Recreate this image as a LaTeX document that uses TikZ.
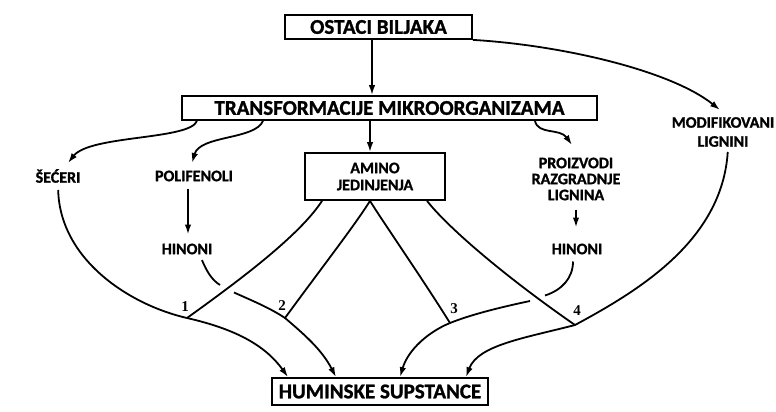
\documentclass[tikz,border=0pt]{standalone}
\usepackage{fontspec}
\setmainfont{Carlito}[BoldFeatures={FakeBold=1.2}]
\newfontfamily\numfont{Liberation Serif}
\usetikzlibrary{arrows.meta}
\begin{document}
\begin{tikzpicture}[x=1pt,y=-1pt,
  box/.style={draw, line width=1.8pt, inner sep=0pt, align=center,
    font=\fontsize{21}{24}\selectfont\bfseries},
  lbl/.style={inner sep=1pt, align=center,
    font=\fontsize{16}{16}\selectfont\bfseries},
  ln/.style={line width=1.8pt},
  arr/.style={ln, -{Latex[length=10pt,width=6.5pt]}},
  num/.style={inner sep=0pt, font=\numfont\fontsize{15}{15}\selectfont\bfseries}]
\useasboundingbox (0,0) rectangle (776,412);
\fill[white] (0,0) rectangle (776,412);

% boxes
\node[box, minimum width=187pt, minimum height=24pt] (ostaci) at (378.5,27) {OSTACI BILJAKA};
\node[box, minimum width=415pt, minimum height=24pt] (transf) at (389.5,108) {TRANSFORMACIJE MIKROORGANIZAMA};
\node[box, minimum width=140pt, minimum height=47pt, font=\fontsize{16}{17}\selectfont\bfseries] (amino) at (375,176.5) {AMINO\\JEDINJENJA};
\node[box, minimum width=216pt, minimum height=27pt] (hum) at (380,391.5) {HUMINSKE SUPSTANCE};

% labels
\node[lbl] (secer) at (58,176) {ŠEĆERI};
\node[lbl] (polif) at (194,176) {POLIFENOLI};
\node[lbl] (hin1) at (187,249) {HINONI};
\node[lbl] (proiz) at (576,179) {PROIZVODI\\RAZGRADNJE\\LIGNINA};
\node[lbl] (hin2) at (577,249) {HINONI};
\node[lbl, font=\fontsize{16}{19}\selectfont\bfseries] (modif) at (723,132) {MODIFIKOVANI\\LIGNINI};

% numbers
\node[num] (n1) at (185,307) {1};
\node[num] (n2) at (282,306) {2};
\node[num] (n3) at (454,309) {3};
\node[num] (n4) at (577,311) {4};

% helper coordinates
\coordinate (x372) at (372,0);
\coordinate (x370) at (370,0);
\coordinate (x197) at (197,0);
\coordinate (x263) at (263,0);
\coordinate (x535) at (535,0);
\coordinate (x188) at (188,0);
\coordinate (x576) at (576,0);
\coordinate (x322) at (322,0);
\coordinate (x427) at (427,0);
\coordinate (x200) at (200,0);
\coordinate (x573) at (573,0);
\coordinate (x728) at (728,0);
\coordinate (x288) at (288,0);
\coordinate (x336) at (336,0);
\coordinate (x400) at (400,0);
\coordinate (x466) at (466,0);
\coordinate (eSec) at (68,163);
\coordinate (ePol) at (192,163);
\coordinate (ePro) at (572,145);
\coordinate (eMod) at (720,110);
\coordinate (j1) at (187,318);
\coordinate (j2) at (285,318);
\coordinate (j3) at (450,323);
\coordinate (j4) at (575,325);
\coordinate (g1a) at (220,285);
\coordinate (g1b) at (234,292.5);
\coordinate (g2a) at (545,295.5);
\coordinate (g2b) at (530,301);

% top arrows
\draw[arr] (ostaci.south -| x372) -- (transf.north -| x372);
\draw[arr] (ostaci.south east) .. controls (560,45) and (670,70) .. (eMod);
\draw[arr] (transf.south -| x197) .. controls (190,140) and (90,135) .. (eSec);
\draw[arr] (transf.south -| x263) .. controls (255,140) and (200,135) .. (ePol);
\draw[arr] (transf.south -| x370) -- (amino.north -| x370);
\draw[arr] (transf.south -| x535) .. controls (538,135) and (560,128) .. (ePro);
\draw[arr, shorten <=6pt, shorten >=8pt] (polif.south -| x188) -- (hin1.north -| x188);
\draw[arr, shorten <=8pt, shorten >=15pt] (proiz.south -| x576) -- (hin2.north -| x576);

% amino lines
\draw[ln] (amino.south -| x322) .. controls (300,235) and (240,280) .. (j1);
\draw[ln] (amino.south -| x370) .. controls (355,225) and (320,270) .. (j2);
\draw[ln] (amino.south -| x370) .. controls (385,225) and (420,275) .. (j3);
\draw[ln] (amino.south -| x427) .. controls (450,230) and (510,280) .. (j4);

% converging lines
\draw[arr, shorten <=6pt] (secer.south) .. controls (60,260) and (130,305) .. (j1)
  .. controls (235,329) and (265,345) .. (hum.north -| x288);
\draw[ln, shorten <=5pt] (hin1.south -| x200) .. controls (207,272) and (212,280) .. (g1a);
\draw[arr] (g1b) .. controls (253,301) and (270,308) .. (j2)
  .. controls (305,335) and (322,350) .. (hum.north -| x336);
\draw[ln, shorten <=6pt] (hin2.south -| x573) .. controls (573,278) and (562,290) .. (g2a);
\draw[arr] (g2b) .. controls (497,308) and (470,315) .. (j3)
  .. controls (428,332) and (408,350) .. (hum.north -| x400);
\draw[arr, shorten <=4pt] (modif.south -| x728) .. controls (722,240) and (640,290) .. (j4)
  .. controls (525,338) and (478,345) .. (hum.north -| x466);
\end{tikzpicture}
\end{document}
